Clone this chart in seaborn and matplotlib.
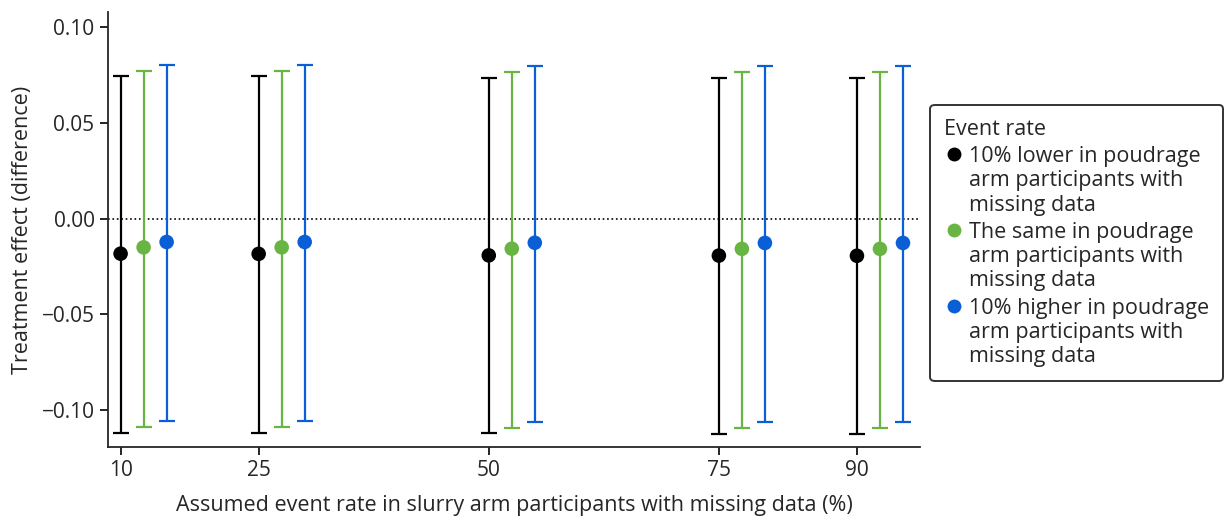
import numpy as np
import pandas as pd
import matplotlib
matplotlib.use("Agg")
import matplotlib.pyplot as plt
from matplotlib.lines import Line2D
import seaborn as sns

# assumed event rate in slurry arm (%)
rates = [10, 25, 50, 75, 90]
groups = ["10% lower in poudrage\narm participants with\nmissing data",
          "The same in poudrage\narm participants with\nmissing data",
          "10% higher in poudrage\narm participants with\nmissing data"]

lower_est = [-0.0183, -0.0184, -0.0192, -0.0193, -0.0194]
lower_lo = [-0.1118, -0.1118, -0.1122, -0.1123, -0.1123]
lower_hi = [0.0745, 0.0745, 0.0737, 0.0736, 0.0736]

same_est = [-0.0150, -0.0150, -0.0157, -0.0158, -0.0158]
same_lo = [-0.1087, -0.1088, -0.1094, -0.1095, -0.1095]
same_hi = [0.0773, 0.0773, 0.0766, 0.0765, 0.0765]

higher_est = [-0.0122, -0.0122, -0.0126, -0.0127, -0.0127]
higher_lo = [-0.1058, -0.1058, -0.1062, -0.1063, -0.1063]
higher_hi = [0.0802, 0.0802, 0.0797, 0.0796, 0.0796]

colors = ["#000000", "#68b544", "#0a5fd6"]
offsets = [0, 2.5, 5]

sns.set_style("ticks")
plt.rcParams['font.family'] = ['Open Sans', 'DejaVu Sans']

rows = []
for g, est, lo, hi, off in zip(groups,
                               [lower_est, same_est, higher_est],
                               [lower_lo, same_lo, higher_lo],
                               [lower_hi, same_hi, higher_hi],
                               offsets):
    for r, e, l, h in zip(rates, est, lo, hi):
        rows.append({"rate": r + off, "est": e, "lo": l, "hi": h, "group": g})
df = pd.DataFrame(rows)

fig = plt.figure(figsize=(12.24, 5.17), dpi=100)
ax = fig.add_axes([0.088, 0.135, 0.664, 0.842])

ax.axhline(0, color="black", linestyle=":", linewidth=1.2, zorder=1)

for g, c in zip(groups, colors):
    sub = df[df["group"] == g]
    ax.errorbar(sub["rate"], sub["est"],
                yerr=[sub["est"] - sub["lo"], sub["hi"] - sub["est"]],
                fmt="none", ecolor=c, elinewidth=1.6, capsize=6, capthick=1.6,
                zorder=2)

sns.scatterplot(data=df, x="rate", y="est", hue="group", palette=colors,
                s=110, edgecolor="none", ax=ax, zorder=3, legend=False)

fs = 15
ax.set_xlim(8.6, 96.9)
ax.set_ylim(-0.1194, 0.108)
ax.set_xticks(rates)
ax.set_xticklabels([str(r) for r in rates])
ax.set_yticks([0.10, 0.05, 0.0, -0.05, -0.10])
ax.set_yticklabels(["0.10", "0.05", "0.00", "\u22120.05", "\u22120.10"])
ax.tick_params(labelsize=fs, length=6, width=1.2, color="black")
ax.set_xlabel("Assumed event rate in slurry arm participants with missing data (%)",
              fontsize=15.5, labelpad=10)
ax.set_ylabel("Treatment effect (difference)", fontsize=15.5, labelpad=6)
for s in ["left", "bottom"]:
    ax.spines[s].set_linewidth(1.3)
sns.despine(ax=ax)

lfs = 15.5
handles = [Line2D([], [], linestyle="none", marker="o", markersize=10,
                  markerfacecolor=c, markeredgecolor="none") for c in colors]
lsp = 1.2
leg = ax.legend(handles, groups, title="Event rate", loc="center left",
                bbox_to_anchor=(1.007, 0.469), fontsize=lfs, title_fontsize=lfs,
                frameon=True, fancybox=True, edgecolor="black",
                handletextpad=0.3, handlelength=0.85,
                borderpad=0.65, borderaxespad=0.2, labelspacing=0.3,
                alignment="left")
leg.get_frame().set_linewidth(1.4)
for t in leg.get_texts():
    t.set_linespacing(lsp)
# move the markers up to the first line of each label
for h in leg.legend_handles:
    h.set_ydata(np.asarray(h.get_ydata()) + lfs * lsp * 1.05)

fig.savefig("out.png", dpi=100)
